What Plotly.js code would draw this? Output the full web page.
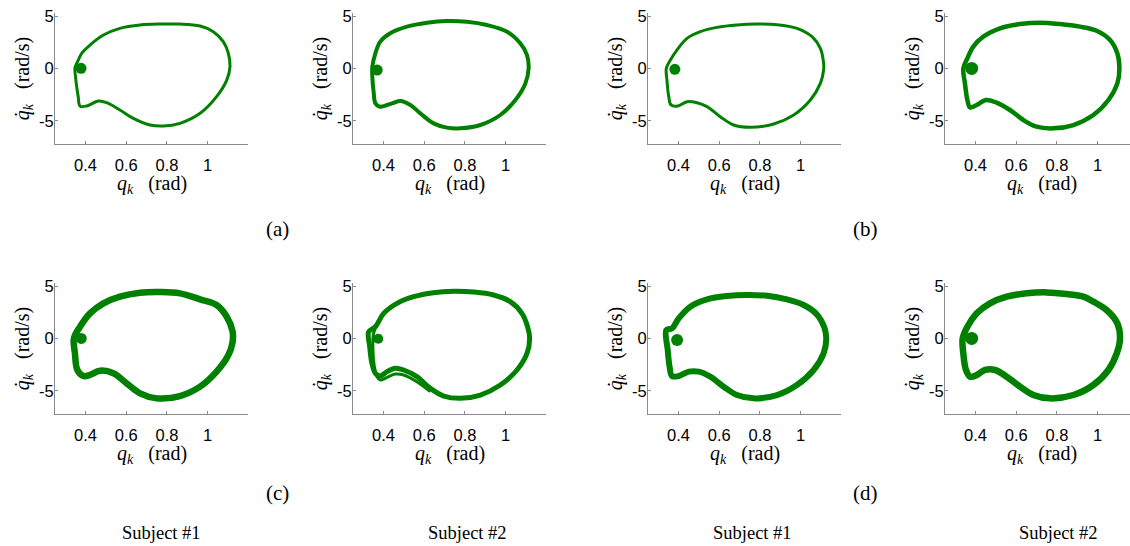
<!DOCTYPE html>
<html>
<head>
<meta charset="utf-8">
<script src="https://cdn.plot.ly/plotly-3.0.1.min.js"></script>
<style>html,body{margin:0;padding:0;background:#fff;}#chart{width:1130px;height:546px;}</style>
</head>
<body>
<div id="chart"></div>
<script>
// ---- data (knee angle q_k [rad] vs velocity dq_k [rad/s]) ----
const q1  = [0.352,0.366,0.381,0.422,0.488,0.569,0.668,0.766,0.864,0.963,1.028,1.077,1.102,1.110,1.094,1.044,0.963,0.864,0.782,0.717,0.635,0.569,0.504,0.463,0.406,0.373,0.364,0.352,0.348,0.352];
const qd1 = [0.30,0.90,1.47,2.27,3.23,3.87,4.19,4.28,4.28,4.09,3.55,2.59,1.47,0.19,-1.09,-2.68,-4.28,-5.24,-5.50,-5.40,-4.76,-3.96,-3.26,-3.10,-3.58,-3.58,-2.68,-1.00,0.10,0.30];

const q2  = [0.345,0.360,0.384,0.433,0.515,0.614,0.712,0.810,0.908,1.007,1.072,1.105,1.113,1.097,1.048,0.974,0.876,0.777,0.712,0.646,0.581,0.532,0.483,0.442,0.384,0.360,0.352,0.345,0.345];
const qd2 = [0.19,1.47,2.59,3.39,4.03,4.41,4.57,4.50,4.19,3.55,2.43,1.31,0.03,-1.41,-3.00,-4.44,-5.40,-5.72,-5.65,-5.24,-4.28,-3.48,-3.10,-3.32,-3.64,-3.32,-2.36,-0.77,0.19];

const q3  = [0.340,0.360,0.392,0.442,0.507,0.589,0.687,0.786,0.884,0.982,1.056,1.097,1.113,1.113,1.097,1.048,0.966,0.868,0.753,0.671,0.605,0.540,0.491,0.442,0.396,0.363,0.352,0.343,0.340];
const qd3 = [0.03,0.83,1.79,2.91,3.55,3.96,4.19,4.28,4.22,3.87,3.07,1.95,0.51,-0.13,-1.41,-3.00,-4.44,-5.30,-5.62,-5.40,-4.60,-3.64,-3.26,-3.16,-3.58,-3.48,-2.68,-1.09,0.03];

const q4  = [0.340,0.360,0.389,0.438,0.520,0.619,0.717,0.815,0.913,0.995,1.061,1.097,1.107,1.097,1.053,0.979,0.881,0.782,0.700,0.635,0.569,0.504,0.451,0.406,0.373,0.360,0.348,0.340];
const qd4 = [0.03,0.99,2.11,3.07,3.87,4.28,4.41,4.28,4.03,3.64,2.75,1.47,0.03,-1.41,-3.00,-4.44,-5.40,-5.72,-5.56,-4.92,-3.96,-3.26,-3.00,-3.48,-3.71,-3.00,-1.41,0.03];

const q5  = [0.343,0.373,0.422,0.488,0.569,0.668,0.766,0.864,0.963,1.044,1.094,1.123,1.123,1.102,1.044,0.963,0.864,0.750,0.668,0.602,0.537,0.471,0.422,0.389,0.360,0.348,0.343];
const qd5 = [0.03,1.15,2.43,3.39,4.03,4.41,4.47,4.35,3.77,3.23,2.11,0.67,-0.29,-1.57,-3.16,-4.60,-5.50,-5.72,-5.24,-4.28,-3.32,-3.07,-3.48,-3.58,-3.00,-1.41,0.03];

const q6  = [0.327,0.360,0.401,0.466,0.548,0.646,0.745,0.843,0.941,1.023,1.080,1.108,1.118,1.105,1.056,0.974,0.876,0.777,0.696,0.630,0.564,0.499,0.458,0.417,0.384,0.360,0.343,0.332,0.327];
const qd6 = [0.67,1.15,2.43,3.39,4.03,4.41,4.54,4.47,4.19,3.55,2.43,1.15,0.03,-1.41,-3.00,-4.44,-5.40,-5.72,-5.50,-4.76,-3.64,-3.00,-2.84,-3.16,-3.58,-3.32,-2.36,-0.77,0.67];
// second visible strand of subject #2 in (c)
const q6b  = [0.630,0.564,0.499,0.458,0.417,0.384,0.368,0.355,0.348,0.351,0.371];
const qd6b = [-5.08,-4.12,-3.48,-3.39,-3.71,-3.96,-3.64,-2.68,-1.09,0.51,1.47];

const q7  = [0.340,0.368,0.401,0.458,0.540,0.638,0.736,0.835,0.933,1.015,1.080,1.117,1.126,1.113,1.064,0.982,0.884,0.769,0.687,0.622,0.556,0.499,0.450,0.401,0.368,0.356,0.347,0.340];
const qd7 = [0.83,0.99,1.95,3.07,3.77,4.09,4.19,4.12,3.77,3.23,2.33,1.05,0.03,-1.41,-3.00,-4.44,-5.40,-5.72,-5.40,-4.60,-3.64,-3.16,-3.16,-3.58,-3.58,-2.68,-1.09,0.83];

const q8  = [0.337,0.360,0.406,0.471,0.553,0.651,0.750,0.848,0.930,0.979,1.044,1.097,1.110,1.094,1.053,0.979,0.881,0.766,0.684,0.619,0.553,0.496,0.447,0.406,0.373,0.353,0.340,0.337];
const qd8 = [0.03,1.15,2.43,3.39,4.03,4.35,4.44,4.28,4.03,3.55,2.75,1.47,0.03,-1.41,-3.00,-4.44,-5.40,-5.72,-5.40,-4.60,-3.64,-3.00,-3.00,-3.48,-3.64,-3.00,-1.41,0.03];

// stance "blob" near the start of each cycle
const dotQ  = [0.378,0.369,0.382,0.381,0.379,0.374,0.393,0.381];
const dotQd = [0.04,-0.13,-0.06,0.03,0.03,0.00,-0.13,0.03];

const xTickVals = [0.4,0.6,0.8,1];
const xTickText = ["0.4","0.6","0.8","1"];
const yTickVals = [-5,0,5];
const yTickText = ["-5","0","5"];
const xTitle = "<i>q</i><sub><i>k</i></sub>&nbsp;&nbsp;&nbsp;(rad)";
const yTitle = "<i>q̇</i><sub><i>k</i></sub>&nbsp;&nbsp;&nbsp;(rad/s)";
const panelLetters = ["(a)","(b)","(c)","(d)"];
const subjectLabels = ["Subject #1","Subject #2","Subject #1","Subject #2"];

// ---- layout geometry (pixels) ----
const W = 1130, H = 546;
const colPx = [[55,248],[353,546],[648,841],[945,1130]];
const rowPx = [[13,144],[283,414]];
const pxPerUnitX = 203.5;
const lineW = [3,4,3,4.5,6.5,5,6,6.5];
const dotSize = [11,11,11,13,11,10,12,13];
const green = "rgb(0,128,0)";

const loops = [[q1,qd1],[q2,qd2],[q3,qd3],[q4,qd4],[q5,qd5],[q6,qd6],[q7,qd7],[q8,qd8]];
const traces = [];
const layout = {
  width: W, height: H,
  margin: {l:0,r:0,t:0,b:0},
  paper_bgcolor: "#fff", plot_bgcolor: "#fff",
  showlegend: false,
  annotations: []
};
const tickFont = {family: "Liberation Sans, Arial, sans-serif", size: 16.5, color: "#000"};
const titleFont = {family: "Liberation Serif, Times New Roman, serif", size: 20, color: "#000"};

loops.forEach((lp, i) => {
  const n = i + 1;
  const row = Math.floor(i / 4), col = i % 4;
  const xa = "x" + (n === 1 ? "" : n), ya = "y" + (n === 1 ? "" : n);
  traces.push({x: lp[0], y: lp[1], xaxis: xa, yaxis: ya, type: "scatter", mode: "lines",
               line: {color: green, width: lineW[i], shape: "spline", smoothing: 1}, hoverinfo: "skip"});
  if (n === 6) {
    traces.push({x: q6b, y: qd6b, xaxis: xa, yaxis: ya, type: "scatter", mode: "lines",
                 line: {color: green, width: 3, shape: "spline", smoothing: 1}, hoverinfo: "skip"});
  }
  traces.push({x: [dotQ[i]], y: [dotQd[i]], xaxis: xa, yaxis: ya, type: "scatter", mode: "markers",
               marker: {color: green, size: dotSize[i]}, hoverinfo: "skip"});
  const [x0, x1] = colPx[col], [y0, y1] = rowPx[row];
  const xr1 = 0.25 + (x1 - x0) / pxPerUnitX;
  const common = {showgrid: false, zeroline: false, showline: true, linecolor: "#8a8a8a", linewidth: 1,
                  ticks: "inside", ticklen: 3, tickcolor: "#8a8a8a", tickfont: tickFont, fixedrange: true};
  layout["xaxis" + (n === 1 ? "" : n)] = Object.assign({}, common, {
    domain: [x0 / W, x1 / W], range: [0.25, xr1], anchor: ya,
    tickmode: "array", tickvals: xTickVals, ticktext: xTickText, ticklabelstandoff: 6
  });
  layout["yaxis" + (n === 1 ? "" : n)] = Object.assign({}, common, {
    domain: [1 - y1 / H, 1 - y0 / H], range: [-7.22, 5.34], anchor: xa,
    tickmode: "array", tickvals: yTickVals, ticktext: yTickText, ticklabelstandoff: -3,
    title: {text: yTitle, font: titleFont, standoff: 4}
  });
  // x-axis title placed just under the tick labels, as in the reference
  const xCenter = col < 3 ? (x0 + x1) / 2 : (x0 + x0 + 193) / 2;
  layout.annotations.push({text: xTitle, xref: "paper", yref: "paper", x: xCenter / W, y: 1 - (y1 + 40) / H,
    xanchor: "center", yanchor: "middle", showarrow: false, font: titleFont});
});

const letterX = [277, 866], letterY = [229, 493];
panelLetters.forEach((t, k) => {
  layout.annotations.push({text: t, xref: "paper", yref: "paper", x: letterX[k % 2] / W, y: 1 - letterY[Math.floor(k / 2)] / H,
    xanchor: "center", yanchor: "middle", showarrow: false,
    font: {family: "Liberation Serif, Times New Roman, serif", size: 21, color: "#000"}});
});
const subjX = [161, 467, 752, 1058];
subjectLabels.forEach((t, k) => {
  layout.annotations.push({text: t, xref: "paper", yref: "paper", x: subjX[k] / W, y: 1 - 533 / H,
    xanchor: "center", yanchor: "middle", showarrow: false,
    font: {family: "Liberation Serif, Times New Roman, serif", size: 18.5, color: "#000"}});
});

Plotly.newPlot("chart", traces, layout, {displayModeBar: false, staticPlot: true});
</script>
</body>
</html>
